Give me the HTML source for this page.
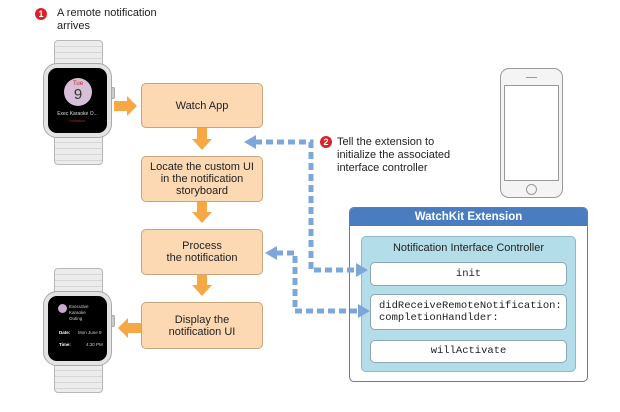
<!DOCTYPE html>
<html><head><meta charset="utf-8"><style>
*{margin:0;padding:0;box-sizing:border-box}
body{width:620px;height:412px;background:#fff;position:relative;overflow:hidden;font-family:"Liberation Sans",sans-serif;color:#222}
.a{position:absolute}
.box{position:absolute;left:141px;width:122px;background:#fcd9b3;border:1px solid #c9a57e;border-radius:5px;display:flex;align-items:center;justify-content:center;text-align:center;font-size:11px;line-height:12px}
.badge{position:absolute;width:12px;height:12px;border-radius:50%;background:#d8232a;color:#fff;font-size:9px;font-weight:bold;text-align:center;line-height:12px}
.txt{position:absolute;font-size:11px;line-height:13px}
.band{position:absolute;left:54px;width:49px;border:1px solid #b8b8b8;background:repeating-linear-gradient(#ececec 0 5px,#d6d6d6 5px 6px)}
.case{position:absolute;left:43px;width:69px;height:75px;border-radius:14px;background:#e3e3e3;border:1px solid #aaa}
.scr{position:absolute;left:4px;top:4px;width:59px;height:65px;background:#000;border-radius:9px}
.crown{position:absolute;left:111px;width:4px;height:12px;background:#ccc;border:1px solid #aaa;border-radius:2px}
.m{position:absolute;left:370px;width:197px;background:#fff;border:1px solid #8ea6b4;border-radius:5px;font-family:"Liberation Mono",monospace;font-size:10.5px;line-height:12px;white-space:nowrap}
</style></head><body>
<div class="badge" style="left:35px;top:8px">1</div>
<div class="txt" style="left:57px;top:7px">A remote notification<br>arrives</div>

<div class="band" style="top:40px;height:26px;border-radius:4px 4px 0 0"></div>
<div class="band" style="top:136px;height:29px;border-radius:0 0 4px 4px"></div>
<div class="case" style="top:63px"><div class="scr">
<div class="a" style="left:16px;top:10px;width:28px;height:28px;border-radius:50%;background:#d8bfd8;text-align:center">
<div style="color:#c22;font-size:6px;line-height:8px;margin-top:2px">Tue</div><div style="font-size:15px;line-height:14px;color:#333">9</div></div>
<div class="a" style="left:0;width:59px;top:43px;text-align:center;color:#ddd;font-size:5px">Exec Karaoke O...</div>
<div class="a" style="left:0;width:59px;top:50px;text-align:center;color:#b22;font-size:4px">invitation</div>
</div></div>
<div class="crown" style="top:87px"></div>

<div class="band" style="top:268px;height:26px;border-radius:4px 4px 0 0"></div>
<div class="band" style="top:364px;height:29px;border-radius:0 0 4px 4px"></div>
<div class="case" style="top:291px"><div class="scr" style="color:#ccc;font-size:4.5px">
<div class="a" style="left:10px;top:8px;width:9px;height:9px;border-radius:50%;background:#c9a9d0"></div>
<div class="a" style="left:21px;top:8px;line-height:6px">Executive<br>Karaoke<br>Outing</div>
<div class="a" style="left:11px;top:34px;font-weight:bold;color:#fff">Date:</div><div class="a" style="left:30px;top:34px">Mon June 9</div>
<div class="a" style="left:11px;top:46px;font-weight:bold;color:#fff">Time:</div><div class="a" style="left:38px;top:46px">4:30 PM</div>
</div></div>
<div class="crown" style="top:315px"></div>

<div class="box" style="top:83px;height:45px">Watch App</div>
<div class="box" style="top:156px;height:46px">Locate the custom UI<br>in the notification<br>storyboard</div>
<div class="box" style="top:229px;height:46px">Process<br>the notification</div>
<div class="box" style="top:302px;height:47px">Display the<br>notification UI</div>

<div class="a" style="left:500px;top:68px;width:63px;height:130px;border:1px solid #999;border-radius:9px;background:#f4f4f4">
<div class="a" style="left:3px;top:16px;width:55px;height:96px;border:1px solid #999;background:#fff"></div>
<div class="a" style="left:25px;top:115px;width:11px;height:11px;border-radius:50%;border:1px solid #999"></div>
<div class="a" style="left:25px;top:8px;width:11px;height:1px;background:#999"></div>
</div>

<div class="a" style="left:349px;top:207px;width:239px;height:175px;border:1px solid #5b7fb5;border-radius:5px;background:#fff;overflow:hidden">
<div style="height:18px;background:#4a7cc0;color:#fff;font-weight:bold;font-size:11.5px;text-align:center;line-height:18px">WatchKit Extension</div>
</div>
<div class="a" style="left:361px;top:236px;width:215px;height:136px;background:#b3dde8;border:1px solid #8fb8c8;border-radius:5px;font-size:11px;text-align:center;padding-top:5px">Notification Interface Controller</div>
<div class="m" style="top:262px;height:24px;text-align:center;line-height:22px">init</div>
<div class="m" style="top:294px;height:36px;padding:5px 0 0 8px">didReceiveRemoteNotification:<br>completionHandlder:</div>
<div class="m" style="top:340px;height:23px;text-align:center;line-height:21px">willActivate</div>

<div class="badge" style="left:320px;top:136px">2</div>
<div class="txt" style="left:337px;top:136px">Tell the extension to<br>initialize the associated<br>interface controller</div>

<svg class="a" style="left:0;top:0" width="620" height="412">
<g fill="#f5a843">
<rect x="114" y="101" width="14" height="10"/><polygon points="127,96 137,106 127,116"/>
<rect x="197" y="128" width="10" height="12"/><polygon points="192,139 212,139 202,150"/>
<rect x="197" y="202" width="10" height="11"/><polygon points="192,212 212,212 202,223"/>
<rect x="197" y="275" width="10" height="11"/><polygon points="192,285 212,285 202,296"/>
<rect x="127" y="323" width="14" height="10"/><polygon points="128,318 118,328 128,338"/>
</g>
<g fill="none" stroke="#7da7d9" stroke-width="5" stroke-dasharray="7,4">
<path d="M255 142 H311 V270 H356"/>
<path d="M276 253 H295 V311 H358"/>
</g>
<g fill="#7da7d9">
<polygon points="256,135 244,142 256,149"/>
<polygon points="277,246 265,253 277,260"/>
<polygon points="356,263 368,270 356,277"/>
<polygon points="358,304 370,311 358,318"/>
</g>
</svg>
</body></html>
